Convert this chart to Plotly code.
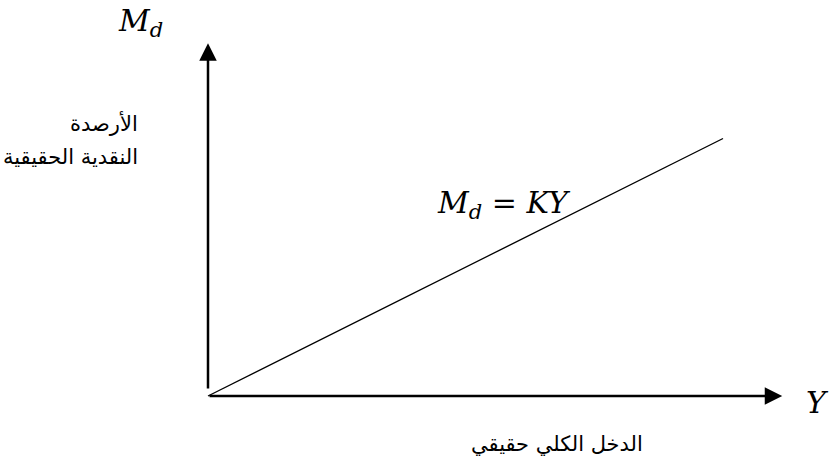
import plotly.graph_objects as go

# Data: real income Y and money demand Md = K*Y
income = [0, 10]
K = 0.5
money_demand = [K * v for v in income]
axis_ends = {"x": 11.15, "y": 6.85}

# pixel <-> data helpers (figure is 830x465, no margins)
W, H = 830, 465
OX, OY, S = 208, 396, 51.5
def px(x):
    return (x - OX) / S
def py(y):
    return (OY - y) / S

fig = go.Figure()
fig.add_trace(go.Scatter(x=income, y=money_demand, mode="lines",
                         line=dict(color="black", width=1.3),
                         hoverinfo="skip", showlegend=False))

math_font = dict(family="DejaVu Serif", size=30, color="black")
ar_font = dict(family="DejaVu Sans", size=21, color="black")

ann = []
# axes arrows
ann.append(dict(x=axis_ends["x"], y=0, ax=0, ay=0, xref="x", yref="y", axref="x", ayref="y",
                text="", showarrow=True, arrowhead=2, arrowsize=1.4, arrowwidth=2.5,
                arrowcolor="black", standoff=0, startstandoff=0))
ann.append(dict(x=0, y=axis_ends["y"], ax=0, ay=py(390), xref="x", yref="y", axref="x", ayref="y",
                text="", showarrow=True, arrowhead=2, arrowsize=1.4, arrowwidth=2.5,
                arrowcolor="black", standoff=0, startstandoff=0))
# texts
ann.append(dict(x=px(140), y=py(22), xref="x", yref="y", text="<i>M</i><sub><i>d</i></sub>",
                showarrow=False, font=math_font, xanchor="center", yanchor="middle"))
ann.append(dict(x=px(504), y=py(204), xref="x", yref="y",
                text="<i>M</i><sub><i>d</i></sub> = <i>KY</i>",
                showarrow=False, font=math_font, xanchor="center", yanchor="middle"))
ann.append(dict(x=px(817), y=py(402), xref="x", yref="y", text="<i>Y</i>",
                showarrow=False, font=math_font, xanchor="center", yanchor="middle"))
ann.append(dict(x=px(140), y=py(123), xref="x", yref="y", text="الأرصدة",
                showarrow=False, font=ar_font, xanchor="right", yanchor="middle"))
ann.append(dict(x=px(140), y=py(157), xref="x", yref="y", text="النقدية الحقيقية",
                showarrow=False, font=ar_font, xanchor="right", yanchor="middle"))
ann.append(dict(x=px(557), y=py(444), xref="x", yref="y", text="الدخل الكلي حقيقي",
                showarrow=False, font=ar_font, xanchor="center", yanchor="middle"))

fig.update_layout(
    width=W, height=H, margin=dict(l=0, r=0, t=0, b=0),
    paper_bgcolor="white", plot_bgcolor="white",
    xaxis=dict(range=[px(0), px(W)], visible=False, fixedrange=True),
    yaxis=dict(range=[py(H), py(0)], visible=False, fixedrange=True),
    annotations=ann, showlegend=False,
)
fig.write_html("out.html", post_script="document.body.style.margin='0';",
               config={"displayModeBar": False})
